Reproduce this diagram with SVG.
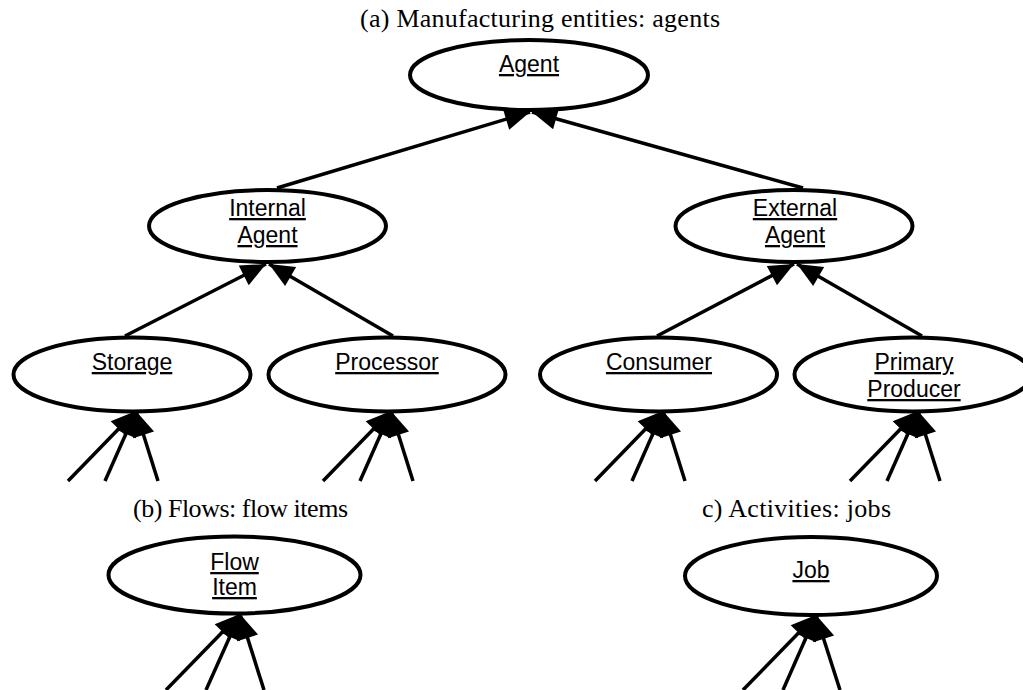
<svg xmlns="http://www.w3.org/2000/svg" width="1023" height="690" viewBox="0 0 1023 690">
  <style>
    .node ellipse { fill: #ffffff; stroke: #000000; stroke-width: 4; }
    .node text { font-family: "Liberation Sans", Arial, sans-serif; font-size: 23px; text-anchor: middle; text-decoration: underline; fill: #000000; }
    .title { font-family: "Liberation Serif", "Times New Roman", serif; font-size: 26px; text-anchor: middle; fill: #000000; }
    .edge { stroke: #000000; stroke-width: 3.5; fill: none; marker-end: url(#head); }
  </style>
  <defs>
    <marker id="head" markerUnits="userSpaceOnUse" viewBox="-26 -12 28 24" markerWidth="28" markerHeight="24" refX="0" refY="0" orient="auto">
      <path d="M0,0 L-25,-11 L-25,11 Z" fill="#000000"/>
    </marker>
  </defs>

  <rect width="1023" height="690" fill="#ffffff"/>

  <!-- section titles -->
  <text class="title" x="540" y="27" textLength="360" lengthAdjust="spacing">(a) Manufacturing entities: agents</text>
  <text class="title" x="240.5" y="517" textLength="215" lengthAdjust="spacing">(b) Flows: flow items</text>
  <text class="title" x="796.5" y="517" textLength="189" lengthAdjust="spacing">c) Activities: jobs</text>

  <!-- generalisation links (child to parent) -->
  <g id="connectors">
    <line class="edge" x1="277" y1="188" x2="530" y2="112"/>
    <line class="edge" x1="803" y1="188" x2="532" y2="112"/>
    <line class="edge" x1="125" y1="336" x2="266" y2="264"/>
    <line class="edge" x1="393" y1="336" x2="269" y2="264"/>
    <line class="edge" x1="657" y1="336" x2="794" y2="264"/>
    <line class="edge" x1="922" y1="336" x2="797" y2="264"/>

    <!-- subclasses continuing below each leaf -->
    <line class="edge" x1="68" y1="481" x2="136" y2="411"/>
    <line class="edge" x1="105" y1="481" x2="136" y2="411"/>
    <line class="edge" x1="158" y1="481" x2="136" y2="411"/>

    <line class="edge" x1="323" y1="481" x2="391" y2="411"/>
    <line class="edge" x1="360" y1="481" x2="391" y2="411"/>
    <line class="edge" x1="413" y1="481" x2="391" y2="411"/>

    <line class="edge" x1="595" y1="481" x2="663" y2="411"/>
    <line class="edge" x1="632" y1="481" x2="663" y2="411"/>
    <line class="edge" x1="685" y1="481" x2="663" y2="411"/>

    <line class="edge" x1="850" y1="481" x2="918" y2="411"/>
    <line class="edge" x1="887" y1="481" x2="918" y2="411"/>
    <line class="edge" x1="940" y1="481" x2="918" y2="411"/>

    <line class="edge" x1="166" y1="690" x2="240" y2="614"/>
    <line class="edge" x1="206" y1="690" x2="240" y2="614"/>
    <line class="edge" x1="264" y1="690" x2="240" y2="614"/>

    <line class="edge" x1="743" y1="690" x2="816" y2="615"/>
    <line class="edge" x1="783" y1="690" x2="816" y2="615"/>
    <line class="edge" x1="840" y1="690" x2="816" y2="615"/>
  </g>

  <g id="agent" class="node">
    <ellipse cx="529" cy="75" rx="119" ry="35"/>
    <text x="529" y="72">Agent</text>
  </g>

  <g id="internal-agent" class="node">
    <ellipse cx="267.5" cy="226" rx="118.5" ry="36"/>
    <text x="267.5" y="216">Internal</text>
    <text x="267.5" y="243">Agent</text>
  </g>

  <g id="external-agent" class="node">
    <ellipse cx="794" cy="226" rx="118.5" ry="36"/>
    <text x="795" y="216">External</text>
    <text x="795" y="243">Agent</text>
  </g>

  <g id="storage" class="node">
    <ellipse cx="132" cy="374.5" rx="118.5" ry="37"/>
    <text x="132" y="370">Storage</text>
  </g>

  <g id="processor" class="node">
    <ellipse cx="387" cy="374.5" rx="118.5" ry="37"/>
    <text x="387" y="370">Processor</text>
  </g>

  <g id="consumer" class="node">
    <ellipse cx="658.5" cy="374.5" rx="118.5" ry="37"/>
    <text x="659" y="370">Consumer</text>
  </g>

  <g id="primary-producer" class="node">
    <ellipse cx="913" cy="374.5" rx="118.5" ry="37"/>
    <text x="914" y="370">Primary</text>
    <text x="914" y="397">Producer</text>
  </g>

  <g id="flow-item" class="node">
    <ellipse cx="234.5" cy="575" rx="126" ry="38.5"/>
    <text x="234.5" y="570">Flow</text>
    <text x="234.5" y="595">Item</text>
  </g>

  <g id="job" class="node">
    <ellipse cx="811" cy="576" rx="126" ry="39"/>
    <text x="811" y="578">Job</text>
  </g>
</svg>
